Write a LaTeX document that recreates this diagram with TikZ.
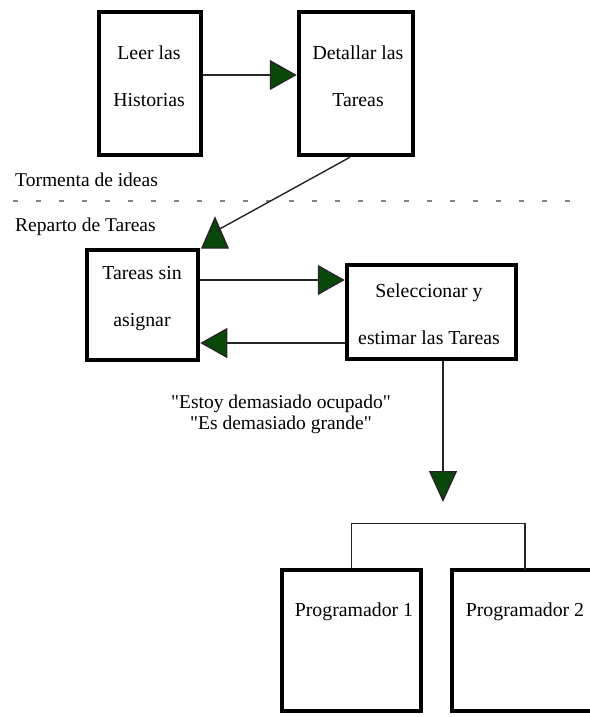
\documentclass[tikz,border=0pt]{standalone}
\usepackage{fontspec}
\setmainfont{Liberation Serif}[Ligatures=TeXOff]
\usetikzlibrary{arrows.meta,calc}
\definecolor{tipgreen}{RGB}{10,72,10}
\definecolor{sepgray}{RGB}{130,130,130}
\tikzset{
  box/.style={draw, line width=4.5pt, rectangle, inner sep=0pt},
  openbox/.style={line width=4.5pt, line join=miter},
  txt/.style={font=\fontsize{19.8}{47}\selectfont, align=center, inner sep=0pt},
  plain/.style={font=\fontsize{19.5}{21}\selectfont, align=center, inner sep=0pt},
  conn/.style={line width=1.4pt, draw=black!85},
  arr/.style={conn, -{Triangle[length=27pt,width=30pt,fill=tipgreen]}},
  arrv/.style={conn, -{Triangle[length=31pt,width=28pt,fill=tipgreen]}},
  sep/.style={draw=sepgray, line width=2.6pt, dash pattern=on 5pt off 18pt}
}
\begin{document}
\begin{tikzpicture}[x=1pt,y=-1pt]
\useasboundingbox (0,0) rectangle (589,717);
% boxes
\node[box, minimum width=102pt, minimum height=143pt] (b1) at (150,83.5) {};
\node[box, minimum width=114pt, minimum height=143pt] (b2) at (356,83.5) {};
\node[box, minimum width=111pt, minimum height=110pt] (b3) at (142.5,305) {};
\node[box, minimum width=169pt, minimum height=94pt] (b4) at (431.5,312) {};
\node[box, minimum width=139pt, minimum height=141pt] (b5) at (351.5,640.5) {};
\node[inner sep=0pt, minimum width=140pt, minimum height=141pt] (b6) at (522,640.5) {};
\draw[openbox] (b6.north east) -- (b6.north west) -- (b6.south west) -- (b6.south east);
% box texts
\node[txt] (t1) at (149,76.5) {Leer las\\Historias};
\node[txt] (t2) at (358,76.5) {Detallar las\\Tareas};
\node[txt] (t3) at (142,299) {Tareas sin\\asignar};
\node[txt] (t4) at (429,314) {Seleccionar y\\estimar las Tareas};
\node[txt] (t5) at (354,612) {Programador 1};
\node[txt] (t6) at (525,612) {Programador 2};
% section labels
\node[plain, anchor=west] (l1) at (15,180) {Tormenta de ideas};
\node[plain, anchor=west] (l2) at (15,227) {Reparto de Tareas};
\node[plain] (q) at (281,414) {"Estoy demasiado ocupado"\\"Es demasiado grande"};
% separator
\coordinate (s1) at (13,201);
\coordinate (s2) at (570,201);
\draw[sep] (s1) -- (s2);
% connectors
\draw[arr] ([yshift=8.5pt]b1.east) -- ([yshift=8.5pt]b1.east -| b2.west);
\draw[arr] ([yshift=25pt]b3.east) -- ([yshift=25pt]b3.east -| b4.west);
\draw[arr] ([yshift=-31pt]b4.west) -- ([yshift=-31pt]b4.west -| b3.east);
\coordinate (down) at (443,502);
\draw[arrv] ([xshift=11.5pt]b4.south) -- (down);
% diagonal with upright triangle
\coordinate (up) at (216,231);
\draw[line width=1.4pt, draw=black!85, fill=tipgreen, line join=miter] (215,218) -- (228,248) -- (202,248) -- cycle;
\draw[conn] ([xshift=-6pt]b2.south) -- (up);
% bracket to programmers
\draw[conn] (b5.north) -- ++(0,-44) -| ([xshift=3pt]b6.north);
\end{tikzpicture}
\end{document}
